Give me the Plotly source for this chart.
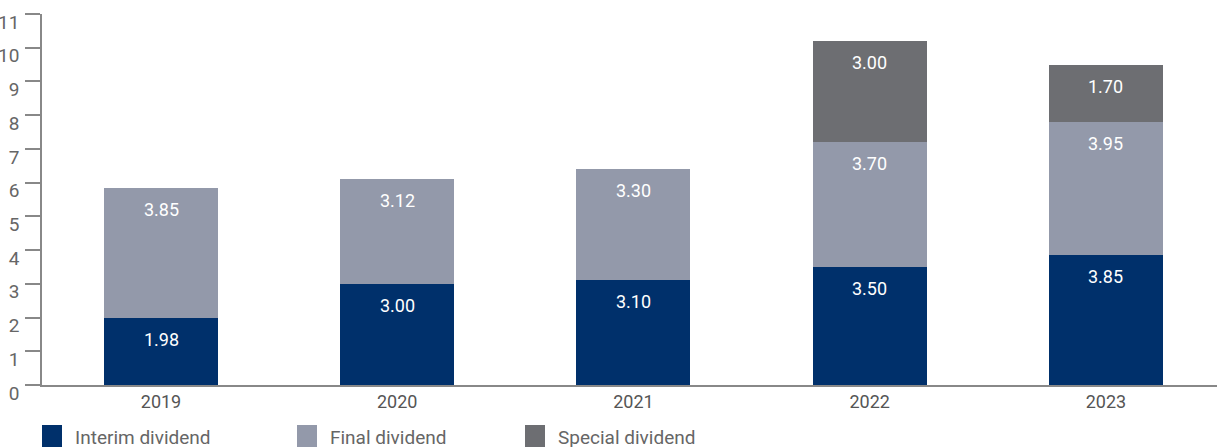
import plotly.graph_objects as go

years = ["2019", "2020", "2021", "2022", "2023"]
interim = [1.98, 3.00, 3.10, 3.50, 3.85]
final = [3.85, 3.12, 3.30, 3.70, 3.95]
special = [None, None, None, 3.00, 1.70]
series_names = ["Interim dividend", "Final dividend", "Special dividend"]
colors = ["#00306B", "#9399AA", "#6D6E72"]
y_ticks = list(range(0, 12))

FONT = "Roboto"
fig = go.Figure()
cum = [0.0] * len(years)
for name, vals, col in zip(series_names, [interim, final, special], colors):
    fig.add_trace(go.Bar(
        x=years, y=vals, name=name, marker_color=col, marker_line_width=0,
        width=0.4825, showlegend=False, hoverinfo="x+y+name",
    ))
    for i, v in enumerate(vals):
        if v is None:
            continue
        cum[i] += v
        fig.add_annotation(x=i, y=cum[i], text=f"{v:.2f}",
                           showarrow=False, yanchor="top", yshift=-9,
                           font=dict(color="white", size=18, family=FONT))

# manual legend (pixel positions relative to the plot area)
PL, PT, PW, PH = 42, 14, 1175, 371
leg_x = [42, 297, 525]
for name, col, lx in zip(series_names, colors, leg_x):
    fig.add_shape(type="rect", xref="paper", yref="paper",
                  x0=(lx - PL) / PW, x1=(lx + 20 - PL) / PW,
                  y0=(PT + PH - 450) / PH, y1=(PT + PH - 425) / PH,
                  fillcolor=col, line_width=0, layer="above")
    fig.add_annotation(xref="paper", yref="paper", x=(lx + 31 - PL) / PW,
                       y=(PT + PH - 437) / PH, text=name, showarrow=False,
                       xanchor="left", yanchor="middle",
                       font=dict(size=19, color="#666", family=FONT))

fig.update_layout(
    barmode="stack",
    width=1217, height=447,
    margin=dict(l=PL, r=0, t=PT, b=447 - PT - PH),
    plot_bgcolor="white", paper_bgcolor="white",
    font=dict(family=FONT, color="#666"),
    xaxis=dict(range=[-0.5037, 4.470], showgrid=False, showline=True,
               linecolor="#888", linewidth=1.5, ticks="",
               ticklabelstandoff=0, automargin=False,
               tickfont=dict(size=18, color="#555")),
    yaxis=dict(range=[0, 11], tickvals=y_ticks, showgrid=False,
               showline=True, linecolor="#888", linewidth=1.5,
               ticks="outside", ticklen=15, tickcolor="#888", tickwidth=1.5,
               ticklabeloverflow="allow", automargin=False,
               ticklabelshift=8, ticklabelstandoff=2,
               tickfont=dict(size=19, color="#666"), zeroline=False),
)
fig.write_html("out.html", config={"displayModeBar": False},
               post_script="document.body.style.margin='0';")
